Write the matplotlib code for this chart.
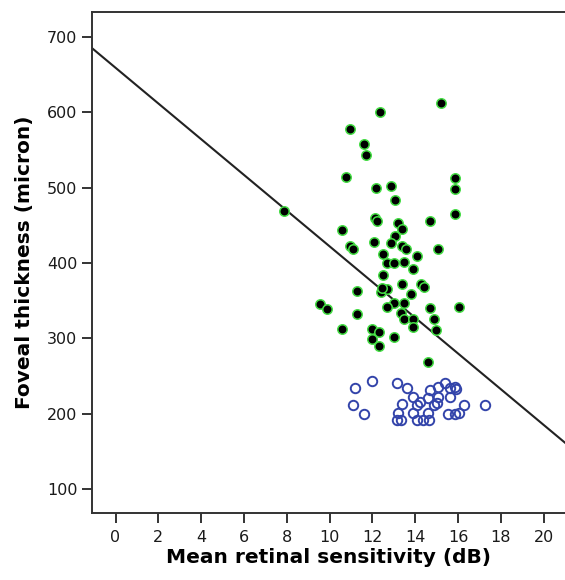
import matplotlib
matplotlib.use("Agg")
import matplotlib.pyplot as plt
import numpy as np

plt.rcParams['font.family'] = ['DejaVu Sans']

# Group with thick fovea (filled markers)
thick_x = [7.88, 15.19, 12.37, 10.97, 11.59, 11.68, 10.78, 12.18, 12.88, 15.87,
           15.87, 13.07, 15.87, 12.10, 12.21, 13.18, 14.67, 10.58, 13.40, 13.07,
           10.97, 11.09, 12.07, 12.85, 13.38, 13.58, 15.08, 12.49, 14.08, 12.68,
           12.99, 13.49, 13.89, 12.49, 13.38, 14.27, 14.39, 11.29, 12.38, 12.68,
           12.46, 13.79, 9.57, 9.89, 12.99, 13.49, 12.68, 14.67, 16.07, 11.29,
           13.36, 13.47, 13.89, 14.87, 13.89, 10.57, 11.96, 12.29, 14.97, 11.96,
           12.99, 12.29, 14.58]
thick_y = [469.1, 612.1, 600.1, 578.0, 557.6, 543.0, 513.8, 500.0, 501.9, 512.5,
           497.9, 483.3, 465.1, 459.4, 456.2, 453.5, 455.4, 443.8, 444.5, 435.9,
           423.0, 418.2, 427.5, 426.6, 423.0, 418.2, 418.2, 412.4, 408.9, 399.6,
           399.6, 401.3, 392.0, 384.1, 371.7, 372.5, 367.7, 362.8, 361.1, 365.9,
           366.4, 358.4, 345.6, 338.5, 346.5, 346.5, 341.2, 339.8, 341.2, 331.9,
           333.2, 325.6, 326.0, 326.0, 315.4, 312.4, 312.0, 308.4, 310.6, 299.6,
           301.3, 290.2, 268.1]

# Group with normal fovea (open markers)
normal_x = [11.19, 11.98, 11.09, 11.59, 13.16, 13.60, 13.88, 13.38, 14.09, 14.22,
            14.67, 15.08, 15.39, 15.61, 15.84, 15.92, 14.60, 15.08, 15.65, 14.88,
            15.00, 16.28, 17.26, 13.18, 13.88, 14.58, 15.54, 15.86, 16.03, 13.13,
            13.34, 14.07, 14.36, 14.66]
normal_y = [234.0, 242.9, 211.8, 199.1, 240.2, 234.4, 222.4, 212.7, 211.4, 214.7,
            231.3, 234.7, 240.9, 233.6, 234.9, 232.7, 220.7, 222.4, 222.4, 211.8,
            213.4, 211.2, 211.2, 200.8, 200.8, 200.8, 199.1, 198.8, 200.8, 190.8,
            190.8, 190.8, 190.8, 190.8]

# Regression line
line_intercept = 659.0
line_slope = -23.7

x_ticks = [0, 2, 4, 6, 8, 10, 12, 14, 16, 18, 20]
y_ticks = [100, 200, 300, 400, 500, 600, 700]

fig = plt.figure(figsize=(5.65, 5.80), dpi=100)
ax = fig.add_axes([0.1628, 0.1155, 0.8372, 0.8638])

xlim = (-1.1, 21.0)
ax.set_xlim(*xlim)
ax.set_ylim(68, 733)

lx = np.array(xlim)
ax.plot(lx, line_intercept + line_slope * lx, color='#222222', lw=1.5, zorder=2)

ax.plot(thick_x, thick_y, 'o', ms=6.8, mfc='black', mec='#44dd44', mew=1.1,
        linestyle='none', zorder=3)
ax.plot(normal_x, normal_y, 'o', ms=6.8, mfc='none', mec='#3344aa', mew=1.4,
        linestyle='none', zorder=3)

ax.set_xticks(x_ticks)
ax.set_yticks(y_ticks)
ax.tick_params(axis='both', direction='out', length=7.5, width=1.4, color='#333333',
               labelsize=11.5, labelcolor='#1a1a1a')
ax.tick_params(axis='x', pad=5)
ax.tick_params(axis='y', pad=3)

for s in ['left', 'top', 'bottom']:
    ax.spines[s].set_linewidth(1.4)
    ax.spines[s].set_color('#333333')
ax.spines['right'].set_visible(False)

ax.set_xlabel('Mean retinal sensitivity (dB)', fontsize=14.5, fontweight='bold', labelpad=2)
ax.set_ylabel('Foveal thickness (micron)', fontsize=14.5, fontweight='bold', labelpad=9)

fig.savefig('out.png', dpi=100)
